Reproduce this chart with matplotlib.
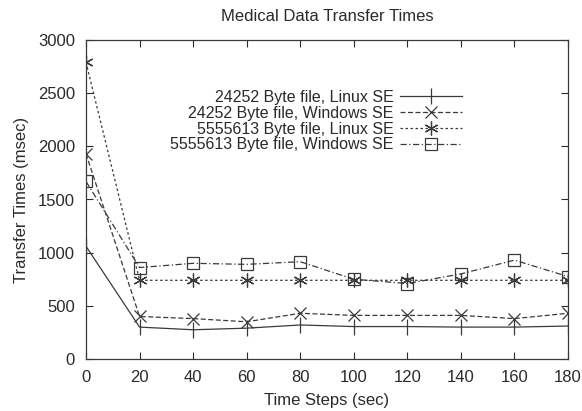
import matplotlib
matplotlib.use('Agg')
import matplotlib.pyplot as plt

plt.rcParams['font.family'] = ['Liberation Sans', 'DejaVu Sans']

time_steps = [0, 20, 40, 60, 80, 100, 120, 140, 160, 180]
small_linux = [1060, 300, 275, 290, 320, 305, 305, 300, 300, 310]
small_windows = [1930, 400, 380, 350, 430, 410, 410, 410, 380, 430]
large_linux = [2790, 740, 740, 740, 740, 740, 740, 740, 740, 740]
large_windows = [1670, 860, 900, 890, 915, 750, 710, 800, 930, 775]

labels = ['24252 Byte file, Linux SE', '24252 Byte file, Windows SE',
          '5555613 Byte file, Linux SE', '5555613 Byte file, Windows SE']

fig = plt.figure(figsize=(5.82, 4.11), dpi=100)
ax = fig.add_axes([86 / 582, 1 - 359 / 411, 482 / 582, 319 / 411])

col = '#3a3a3a'
txt = '#2a2a2a'
ax.plot(time_steps, small_linux, color=col, lw=0.9, ls='-', marker='|', ms=12, mew=0.9, label=labels[0])
ax.plot(time_steps, small_windows, color=col, lw=0.9, ls=(0, (4, 2)), marker='x', ms=9, mew=0.9, label=labels[1])
ax.plot(time_steps, large_linux, color=col, lw=0.9, ls=(0, (2, 2)), marker=(6, 2, 0), ms=10, mew=0.9, label=labels[2])
ax.plot(time_steps, large_windows, color=col, lw=0.9, ls=(0, (5, 2, 1, 2)), marker='s', ms=9, mew=0.9,
        mfc='none', label=labels[3])

ax.set_xlim(0, 180)
ax.set_ylim(0, 3000)
ax.set_xticks(range(0, 181, 20))
ax.set_yticks(range(0, 3001, 500))
ax.tick_params(direction='in', top=True, right=True, length=5, width=0.8, labelsize=12, colors=txt, pad=8)
for s in ax.spines.values():
    s.set_linewidth(0.9)
    s.set_color(col)

ax.set_title('Medical Data Transfer Times', fontsize=12, color=txt, pad=14)
ax.set_xlabel('Time Steps (sec)', fontsize=12, color=txt, labelpad=6)
ax.set_ylabel('Transfer Times (msec)', fontsize=12, color=txt, labelpad=6)

ax.legend(loc='upper right', bbox_to_anchor=((462 - 86) / 482, (359 - 90) / 319), markerfirst=False,
          frameon=False, borderpad=0, borderaxespad=0, handlelength=3.9, labelspacing=0.05,
          handletextpad=0.4, fontsize=11.5, labelcolor=txt)

fig.savefig('out.png', dpi=100)
